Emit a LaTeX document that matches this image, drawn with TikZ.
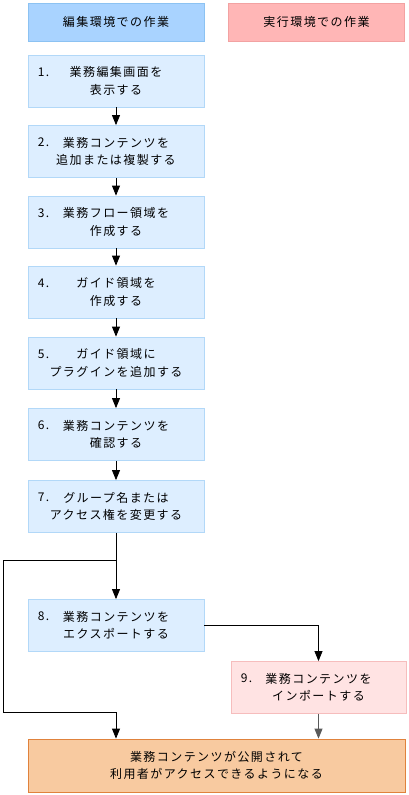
\documentclass[tikz,border=0pt]{standalone}
\usepackage{fontspec}
\setmainfont{Noto Sans CJK JP}[LetterSpace=12]
\usetikzlibrary{arrows.meta,positioning}
\definecolor{hdrblue}{HTML}{A9D3FF}
\definecolor{hdrblueline}{HTML}{8CC2F2}
\definecolor{hdrpink}{HTML}{FFB6B6}
\definecolor{hdrpinkline}{HTML}{F2A2A2}
\definecolor{stepfill}{HTML}{DDEEFF}
\definecolor{stepline}{HTML}{B2D8F8}
\definecolor{importfill}{HTML}{FFE3E3}
\definecolor{importline}{HTML}{F6BDBD}
\definecolor{donefill}{HTML}{F8CAA0}
\definecolor{doneline}{HTML}{E0823C}
\tikzset{
  box/.style={draw,rectangle,inner sep=0pt,align=center,line width=0.8pt,
    font=\fontsize{12}{17.5}\selectfont},
  head/.style={box,minimum width=176pt,minimum height=38pt},
  stepbox/.style={box,fill=stepfill,draw=stepline,minimum width=176pt,minimum height=52pt},
  stepno/.style={label={[anchor=west,inner sep=0pt,xshift=10pt,yshift=9pt,
    font=\fontsize{12}{14}\selectfont]west:#1}},
  flow/.style={line width=0.8pt,-{Triangle[length=10pt,width=8pt]}},
}
\begin{document}
\begin{tikzpicture}[x=1pt,y=-1pt]
\useasboundingbox (0,0) rectangle (409,795);
% column headers
\node[head,fill=hdrblue,draw=hdrblueline] (edit) at (116,22) {編集環境での作業};
\node[head,fill=hdrpink,draw=hdrpinkline] (run) at (316.5,22) {実行環境での作業};
% steps in the editing environment
\node[stepbox,stepno=1.] (s1) at (116,81) {業務編集画面を\\表示する};
\node[stepbox,stepno=2.] (s2) at (116,151.5) {業務コンテンツを\\追加または複製する};
\node[stepbox,stepno=3.] (s3) at (116,222) {業務フロー領域を\\作成する};
\node[stepbox,stepno=4.] (s4) at (116,292) {ガイド領域を\\作成する};
\node[stepbox,stepno=5.] (s5) at (116,363) {ガイド領域に\\プラグインを追加する};
\node[stepbox,stepno=6.] (s6) at (116,434.5) {業務コンテンツを\\確認する};
\node[stepbox,stepno=7.] (s7) at (116,506.5) {グループ名または\\アクセス権を変更する};
\node[stepbox,stepno=8.] (s8) at (116,625.5) {業務コンテンツを\\エクスポートする};
% step in the runtime environment
\node[stepbox,stepno=9.,fill=importfill,draw=importline,minimum width=175pt] (s9) at (318.5,687.5) {業務コンテンツを\\インポートする};
\node[box,fill=donefill,draw=doneline,minimum width=377pt,minimum height=53pt] (done) at (216.5,765.5) {業務コンテンツが公開されて\\利用者がアクセスできるようになる};
% connectors
\foreach \a/\b in {s1/s2,s2/s3,s3/s4,s4/s5,s5/s6,s6/s7,s7/s8}
  \draw[flow] (\a) -- (\b);
\coordinate (split) at (s7.south |- 0,560);
\coordinate (bypass) at (3,712);
\draw[flow] (split) -| (bypass) -| (done.north -| split);
\draw[flow] (s8.east) -| (s9.north);
\draw[flow,draw=black!65] (s9.south) -- (s9.south |- done.north);
\end{tikzpicture}
\end{document}
